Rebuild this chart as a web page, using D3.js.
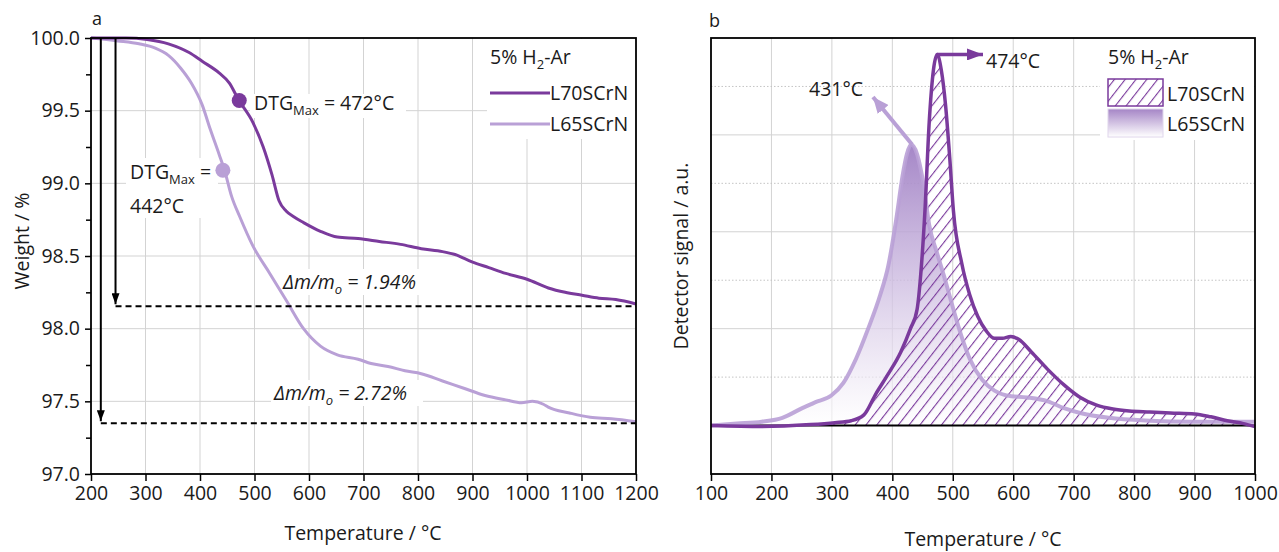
<!DOCTYPE html>
<html><head><meta charset="utf-8">
<script src="https://cdn.jsdelivr.net/npm/d3@7"></script>
<style>
body{margin:0;background:#fff}
svg text{font-family:"Open Sans",sans-serif;fill:#1a1a1a}
</style></head><body>
<svg id="c" width="1279" height="552"></svg>
<script>
// ---------- DATA ----------
const seriesNames = ["L70SCrN", "L65SCrN"];
// Panel a: TGA weight (%) vs temperature (°C)
const tgaTempL70 = [200,250,264,303,342,380,404,435,454,470,497,516,532,545,558,572,590,621,652,690,729,768,806,845,868,899,930,961,1000,1039,1070,1101,1132,1163,1200];
const tgaWeightL70 = [100.0,100.0,100.0,99.99,99.96,99.90,99.84,99.76,99.69,99.58,99.42,99.25,99.06,98.88,98.81,98.77,98.73,98.67,98.63,98.62,98.60,98.58,98.55,98.53,98.51,98.46,98.42,98.38,98.34,98.28,98.25,98.23,98.21,98.20,98.17];
const tgaTempL65 = [200,249,288,318,342,365,384,404,419,435,445,458,473,497,528,559,590,621,652,690,714,745,776,806,845,884,923,961,990,1010,1030,1039,1078,1116,1155,1200];
const tgaWeightL65 = [100.0,99.98,99.96,99.93,99.88,99.79,99.69,99.54,99.37,99.20,99.09,98.91,98.77,98.57,98.38,98.19,98.00,97.88,97.82,97.79,97.76,97.74,97.71,97.69,97.64,97.59,97.54,97.51,97.49,97.50,97.48,97.46,97.42,97.39,97.38,97.36];
const dtgMax = [472, 442];
const dtgMaxWeight = [99.57, 99.09];
const massLoss = ["1.94%", "2.72%"];
const finalLevel = [98.155, 97.35];
const tgaXTicks = [200,300,400,500,600,700,800,900,1000,1100,1200];
const tgaYTicks = [97.0,97.5,98.0,98.5,99.0,99.5,100.0];
const tgaYMinor = [97.25,97.75,98.25,98.75,99.25,99.75];
// Panel b: TPR detector signal (a.u.) vs temperature (°C)
const tprTempL70 = [100,184,265,305,332,353,373,393,414,430,441,447,454,461,468,474,481,488,495,501,515,528,541,555,569,582,596,609,630,657,684,711,738,765,792,826,860,900,927,954,981,1000];
const tprSignalL70 = [0,-0.01,0.01,0.03,0.05,0.11,0.33,0.53,0.76,1.0,1.2,1.56,2.22,3.13,3.67,3.83,3.67,3.31,2.76,2.22,1.67,1.35,1.13,0.98,0.90,0.90,0.92,0.89,0.76,0.58,0.42,0.29,0.21,0.17,0.15,0.14,0.13,0.12,0.09,0.05,0.02,-0.01];
const tprTempL65 = [100,143,184,218,251,272,299,319,340,360,380,393,407,417,424,431,441,451,461,474,488,501,515,528,549,569,589,623,657,684,711,758,826,894,962,1000];
const tprSignalL65 = [0,0.02,0.04,0.08,0.18,0.24,0.31,0.44,0.69,1.0,1.35,1.64,2.15,2.58,2.80,2.90,2.80,2.51,2.07,1.78,1.49,1.2,0.91,0.69,0.47,0.36,0.31,0.29,0.25,0.18,0.13,0.08,0.05,0.04,0.04,0.04];
const tprPeaks = [474, 431];
const tprXTicks = [100,200,300,400,500,600,700,800,900,1000];
const tprYMajor = [1,2,3];
const tprYMinor = [0.5,1.5,2.5,3.5];

// ---------- STYLE ----------
const DARK = "#7a3a9c", LIGHT = "#b9a0d6", GRID = "#d3d3d3";
const FS = 19.5, SUB = 13;
const svg = d3.select("#c");
const defs = svg.append("defs");

function arrowMarker(id, color, w, h) {
  defs.append("marker").attr("id", id).attr("markerUnits", "userSpaceOnUse")
    .attr("viewBox", `0 0 ${w} ${h}`).attr("markerWidth", w).attr("markerHeight", h)
    .attr("refX", w).attr("refY", h / 2).attr("orient", "auto")
    .append("path").attr("d", `M0,0L${w},${h/2}L0,${h}z`).attr("fill", color);
}
arrowMarker("arrBlack", "#000", 11, 8);
arrowMarker("arrDark", DARK, 16, 12);
arrowMarker("arrLight", LIGHT, 16, 14);

const hatch = defs.append("pattern").attr("id", "hatch").attr("patternUnits", "userSpaceOnUse")
  .attr("width", 8.5).attr("height", 8.5).attr("patternTransform", "rotate(38)");
hatch.append("line").attr("x1", 0).attr("y1", 0).attr("x2", 0).attr("y2", 8.5)
  .attr("stroke", DARK).attr("stroke-width", 2.2);

function subText(g, x, y, parts, opts = {}) {
  const t = g.append("text").attr("x", x).attr("y", y).attr("font-size", FS);
  if (opts.italic) t.attr("font-style", "italic");
  parts.forEach(p => {
    const s = t.append("tspan").text(p.t);
    if (p.sub) s.attr("font-size", SUB).attr("dy", 5);
    if (p.after) s.attr("dy", -5);
  });
  return t;
}
function bgRect(g, x, y, w, h) {
  g.append("rect").attr("x", x).attr("y", y).attr("width", w).attr("height", h).attr("fill", "#fff");
}

// ---------- PANEL A ----------
const A = {l: 91, r: 636, t: 38, b: 474};
const xA = d3.scaleLinear().domain([200, 1200]).range([A.l, A.r]);
const yA = d3.scaleLinear().domain([97, 100]).range([A.b, A.t]);
const gA = svg.append("g");

gA.selectAll(".gx").data(tgaXTicks.slice(1, -1)).join("line")
  .attr("x1", d => xA(d)).attr("x2", d => xA(d)).attr("y1", A.t).attr("y2", A.b)
  .attr("stroke", GRID).attr("stroke-width", 1);
gA.selectAll(".gy").data(tgaYTicks.slice(1, -1)).join("line")
  .attr("y1", d => yA(d)).attr("y2", d => yA(d)).attr("x1", A.l).attr("x2", A.r)
  .attr("stroke", GRID).attr("stroke-width", 1);

bgRect(gA, 487, 39, 148, 100);
bgRect(gA, 250, 94, 156, 24);
bgRect(gA, 126, 158, 92, 60);
bgRect(gA, 280, 269, 152, 26);
bgRect(gA, 271, 380, 152, 26);

gA.append("g").attr("transform", `translate(0,${A.b})`)
  .call(d3.axisBottom(xA).tickValues(tgaXTicks).tickSize(7).tickPadding(5).tickFormat(d3.format("d")));
gA.append("g").attr("transform", `translate(${A.l},0)`)
  .call(d3.axisLeft(yA).tickValues(tgaYTicks).tickSize(6).tickPadding(5).tickFormat(d3.format(".1f")));
gA.append("g").attr("transform", `translate(${A.l},0)`)
  .call(d3.axisLeft(yA).tickValues(tgaYMinor).tickSize(5).tickFormat(""));
gA.selectAll(".domain").remove();
gA.selectAll(".tick line").attr("stroke", "#000").attr("stroke-width", 1.5);
gA.selectAll(".tick text").attr("font-size", FS).attr("fill", "#1a1a1a").attr("font-family", "Open Sans");

const lineA = d3.line().x(d => xA(d[0])).y(d => yA(d[1])).curve(d3.curveMonotoneX);
gA.append("path").datum(d3.zip(tgaTempL65, tgaWeightL65)).attr("d", lineA)
  .attr("fill", "none").attr("stroke", LIGHT).attr("stroke-width", 3);
gA.append("path").datum(d3.zip(tgaTempL70, tgaWeightL70)).attr("d", lineA)
  .attr("fill", "none").attr("stroke", DARK).attr("stroke-width", 3);

const arrowX = [245, 218];
finalLevel.forEach((lv, i) => {
  gA.append("line").attr("x1", xA(arrowX[i])).attr("x2", A.r).attr("y1", yA(lv)).attr("y2", yA(lv))
    .attr("stroke", "#000").attr("stroke-width", 2).attr("stroke-dasharray", "6,4");
  gA.append("line").attr("x1", xA(arrowX[i])).attr("x2", xA(arrowX[i]))
    .attr("y1", yA(100)).attr("y2", yA(lv) - 2)
    .attr("stroke", "#000").attr("stroke-width", 2).attr("marker-end", "url(#arrBlack)");
});

gA.append("circle").attr("cx", xA(dtgMax[0])).attr("cy", yA(dtgMaxWeight[0])).attr("r", 7.5).attr("fill", DARK);
gA.append("circle").attr("cx", xA(dtgMax[1])).attr("cy", yA(dtgMaxWeight[1])).attr("r", 7.5).attr("fill", LIGHT);

subText(gA, 254, 110, [{t: "DTG"}, {t: "Max", sub: true}, {t: " = " + dtgMax[0] + "°C", after: true}]);
subText(gA, 130, 179, [{t: "DTG"}, {t: "Max", sub: true}, {t: " =", after: true}]);
gA.append("text").attr("x", 130).attr("y", 213).attr("font-size", FS).text(dtgMax[1] + "°C");
subText(gA, 283, 289, [{t: "Δm/m"}, {t: "o", sub: true}, {t: " = " + massLoss[0], after: true}], {italic: true});
subText(gA, 274, 400, [{t: "Δm/m"}, {t: "o", sub: true}, {t: " = " + massLoss[1], after: true}], {italic: true});

subText(gA, 490, 64, [{t: "5% H"}, {t: "2", sub: true}, {t: "-Ar", after: true}]);
[DARK, LIGHT].forEach((c, i) => {
  const y = 93 + i * 31;
  gA.append("line").attr("x1", 490).attr("x2", 550).attr("y1", y).attr("y2", y).attr("stroke", c).attr("stroke-width", 3);
  gA.append("text").attr("x", 550).attr("y", y + 7).attr("font-size", FS).text(seriesNames[i]);
});

gA.append("rect").attr("x", A.l).attr("y", A.t).attr("width", A.r - A.l).attr("height", A.b - A.t)
  .attr("fill", "none").attr("stroke", "#000").attr("stroke-width", 1.8);

gA.append("text").attr("x", 92).attr("y", 25).attr("font-size", 18).text("a");
gA.append("text").attr("x", 363).attr("y", 540).attr("text-anchor", "middle").attr("font-size", FS).text("Temperature / °C");
gA.append("text").attr("transform", "translate(29,241) rotate(-90)").attr("text-anchor", "middle").attr("font-size", FS).text("Weight / %");

// ---------- PANEL B ----------
const B = {l: 711, r: 1255, t: 38, b: 474};
const xB = d3.scaleLinear().domain([100, 1000]).range([B.l, B.r]);
const yB = d3.scaleLinear().domain([-0.5, 4]).range([B.b, B.t]);
const gB = svg.append("g");

gB.selectAll(".gx").data(tprXTicks.slice(1, -1)).join("line")
  .attr("x1", d => xB(d)).attr("x2", d => xB(d)).attr("y1", B.t).attr("y2", B.b)
  .attr("stroke", GRID).attr("stroke-width", 1);
gB.selectAll(".gy").data(tprYMajor).join("line")
  .attr("y1", d => yB(d)).attr("y2", d => yB(d)).attr("x1", B.l).attr("x2", B.r)
  .attr("stroke", GRID).attr("stroke-width", 1);
gB.selectAll(".gm").data(tprYMinor).join("line")
  .attr("y1", d => yB(d)).attr("y2", d => yB(d)).attr("x1", B.l).attr("x2", B.r)
  .attr("stroke", "#c4c4c4").attr("stroke-width", 1).attr("stroke-dasharray", "1.5,2");

bgRect(gB, 1100, 39, 154, 101);

gB.append("g").attr("transform", `translate(0,${B.b})`)
  .call(d3.axisBottom(xB).tickValues(tprXTicks).tickSize(7).tickPadding(5).tickFormat(d3.format("d")));
gB.selectAll(".domain").remove();
gB.selectAll(".tick line").attr("stroke", "#000").attr("stroke-width", 1.5);
gB.selectAll(".tick text").attr("font-size", FS).attr("fill", "#1a1a1a").attr("font-family", "Open Sans");

const grad = defs.append("linearGradient").attr("id", "gradL65").attr("gradientUnits", "userSpaceOnUse")
  .attr("x1", 0).attr("x2", 0).attr("y1", yB(2.9)).attr("y2", yB(0));
grad.append("stop").attr("offset", 0).attr("stop-color", "#a080c4").attr("stop-opacity", 0.95);
grad.append("stop").attr("offset", 0.45).attr("stop-color", "#c9b6de").attr("stop-opacity", 0.8);
grad.append("stop").attr("offset", 1).attr("stop-color", "#ffffff").attr("stop-opacity", 0.6);
const gradLeg = defs.append("linearGradient").attr("id", "gradLeg").attr("x1", 0).attr("x2", 0).attr("y1", 0).attr("y2", 1);
gradLeg.append("stop").attr("offset", 0).attr("stop-color", "#a585c6");
gradLeg.append("stop").attr("offset", 1).attr("stop-color", "#ffffff");

const areaB = d3.area().x(d => xB(d[0])).y0(yB(0)).y1(d => yB(d[1])).curve(d3.curveMonotoneX);
const lineB = d3.line().x(d => xB(d[0])).y(d => yB(d[1])).curve(d3.curveMonotoneX);
const l65 = d3.zip(tprTempL65, tprSignalL65), l70 = d3.zip(tprTempL70, tprSignalL70);

gB.append("path").datum(l65).attr("d", areaB).attr("fill", "url(#gradL65)");
gB.append("path").datum(l70).attr("d", areaB).attr("fill", "url(#hatch)");
gB.append("line").attr("x1", B.l).attr("x2", B.r).attr("y1", yB(0)).attr("y2", yB(0)).attr("stroke", "#000").attr("stroke-width", 2);
gB.append("path").datum(l65).attr("d", lineB).attr("fill", "none").attr("stroke", LIGHT).attr("stroke-width", 4).attr("stroke-opacity", 0.9);
gB.append("path").datum(l70).attr("d", lineB).attr("fill", "none").attr("stroke", DARK).attr("stroke-width", 3.5);

gB.append("path").attr("d", `M${xB(tprPeaks[0])},${yB(3.83)}L${xB(550)},${yB(3.83)}`)
  .attr("fill", "none").attr("stroke", DARK).attr("stroke-width", 3.5).attr("marker-end", "url(#arrDark)");
gB.append("text").attr("x", 986).attr("y", 68).attr("font-size", FS).text(tprPeaks[0] + "°C");
gB.append("line").attr("x1", xB(tprPeaks[1]) + 1).attr("y1", yB(2.9)).attr("x2", xB(368)).attr("y2", yB(3.39))
  .attr("stroke", LIGHT).attr("stroke-width", 4).attr("marker-end", "url(#arrLight)");
gB.append("text").attr("x", 809).attr("y", 96).attr("font-size", FS).text(tprPeaks[1] + "°C");

subText(gB, 1108, 64, [{t: "5% H"}, {t: "2", sub: true}, {t: "-Ar", after: true}]);
gB.append("rect").attr("x", 1108).attr("y", 79).attr("width", 55).attr("height", 27)
  .attr("fill", "url(#hatch)").attr("stroke", DARK).attr("stroke-width", 1.5);
gB.append("text").attr("x", 1167).attr("y", 101).attr("font-size", FS).text(seriesNames[0]);
gB.append("rect").attr("x", 1108).attr("y", 109).attr("width", 55).attr("height", 28)
  .attr("fill", "url(#gradLeg)").attr("stroke", "#e0d6ec").attr("stroke-width", 1);
gB.append("text").attr("x", 1167).attr("y", 131).attr("font-size", FS).text(seriesNames[1]);

gB.append("rect").attr("x", B.l).attr("y", B.t).attr("width", B.r - B.l).attr("height", B.b - B.t)
  .attr("fill", "none").attr("stroke", "#000").attr("stroke-width", 1.8);

gB.append("text").attr("x", 709).attr("y", 27).attr("font-size", 18).text("b");
gB.append("text").attr("x", 983).attr("y", 546).attr("text-anchor", "middle").attr("font-size", FS).text("Temperature / °C");
gB.append("text").attr("transform", "translate(688,256) rotate(-90)").attr("text-anchor", "middle").attr("font-size", FS).text("Detector signal / a.u.");
</script></body></html>
